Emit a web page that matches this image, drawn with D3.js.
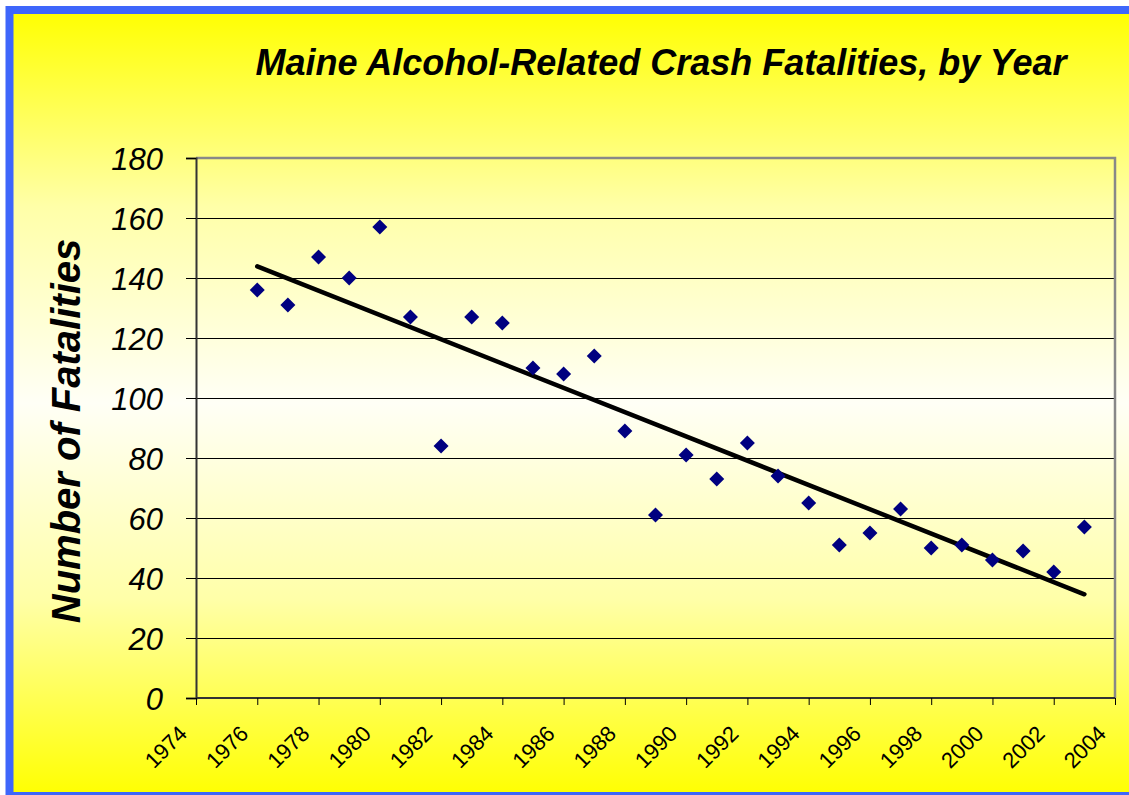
<!DOCTYPE html>
<html><head><meta charset="utf-8">
<script src="https://cdn.jsdelivr.net/npm/d3@7"></script>
<style>html,body{margin:0;padding:0;background:#fff;overflow:hidden}</style>
</head><body>
<script>
const years = [1976,1977,1978,1979,1980,1981,1982,1983,1984,1985,1986,1987,1988,1989,1990,1991,1992,1993,1994,1995,1996,1997,1998,1999,2000,2001,2002,2003];
const fatalities = [136,131,147,140,157,127,84,127,125,110,108,114,89,61,81,73,85,74,65,51,55,63,50,51,46,49,42,57];
const yTicks = [0,20,40,60,80,100,120,140,160,180];
const xTicks = [1974,1976,1978,1980,1982,1984,1986,1988,1990,1992,1994,1996,1998,2000,2002,2004];
const title = "Maine Alcohol-Related Crash Fatalities, by Year";
const yTitle = "Number of Fatalities";

(function(){
const W = 1129, H = 795;
const svg = d3.select("body").append("svg").attr("width", W).attr("height", H);
const defs = svg.append("defs");
const g = defs.append("linearGradient").attr("id","bg").attr("x1",0).attr("y1",0).attr("x2",0).attr("y2",1);
g.append("stop").attr("offset","0%").attr("stop-color","#ffff00");
g.append("stop").attr("offset","25%").attr("stop-color","#ffffa8");
g.append("stop").attr("offset","50%").attr("stop-color","#fffff6");
g.append("stop").attr("offset","75%").attr("stop-color","#ffffa8");
g.append("stop").attr("offset","100%").attr("stop-color","#ffff00");

// frame
svg.append("rect").attr("x",9.5).attr("y",10).attr("width",W+20).attr("height",786)
  .attr("fill","url(#bg)").attr("stroke","#3e66fb").attr("stroke-width",8);

const pl = 196, pt = 158, pr = 1115, pb = 698;
const x = d3.scaleLinear().domain([1974,2004]).range([pl,pr]);
const y = d3.scaleLinear().domain([0,180]).range([pb,pt]);

// gridlines
svg.append("g").selectAll("line").data(yTicks.filter(v=>v>0 && v<180)).join("line")
  .attr("x1",pl).attr("x2",pr).attr("y1",d=>y(d)).attr("y2",d=>y(d))
  .attr("stroke","#000").attr("stroke-width",1).attr("shape-rendering","crispEdges");

// plot border top/right
svg.append("path").attr("d",`M${pl},${pt}H${pr}V${pb}`)
  .attr("fill","none").attr("stroke","#888").attr("stroke-width",2.5);

// axes
const yAxis = d3.axisLeft(y).tickValues(yTicks).tickSize(10).tickPadding(23).tickFormat(d3.format("d"));
const ya = svg.append("g").attr("transform",`translate(${pl},0)`).call(yAxis);
ya.select(".domain").attr("stroke","#333").attr("stroke-width",2);
ya.selectAll(".tick line").attr("stroke","#000").attr("stroke-width",1);
ya.selectAll("text").attr("font-family","Liberation Sans, Arial, sans-serif")
  .attr("font-size",31).attr("font-style","italic").attr("fill","#000").attr("dy","0.36em");

const xAxis = d3.axisBottom(x).tickValues(xTicks).tickSize(7).tickFormat(d3.format("d"));
const xa = svg.append("g").attr("transform",`translate(0,${pb})`).call(xAxis);
xa.select(".domain").attr("stroke","#333").attr("stroke-width",2).attr("d",`M${pl},0H${pr}`);
xa.selectAll(".tick line").attr("stroke","#000").attr("stroke-width",1);
xa.selectAll("text").attr("font-family","Liberation Sans, Arial, sans-serif")
  .attr("font-size",22).attr("fill","#000")
  .attr("text-anchor","end").attr("dy",null).attr("y",0)
  .attr("transform","translate(-8,37) rotate(-45)");

// trend line (least squares)
const n = years.length;
const mx = d3.mean(years), my = d3.mean(fatalities);
let sxy=0, sxx=0;
for(let i=0;i<n;i++){ sxy += (years[i]-mx)*(fatalities[i]-my); sxx += (years[i]-mx)**2; }
const slope = sxy/sxx, icpt = my - slope*mx;
const ends = [years[0], years[n-1]];
svg.append("line")
  .attr("x1",x(ends[0])).attr("y1",y(icpt+slope*ends[0]))
  .attr("x2",x(ends[1])).attr("y2",y(icpt+slope*ends[1]))
  .attr("stroke","#000").attr("stroke-width",4.5).attr("stroke-linecap","round");

// points
const r = 7.5;
svg.append("g").selectAll("path").data(years.map((yr,i)=>[yr,fatalities[i]])).join("path")
  .attr("d",d=>{const cx=x(d[0]), cy=y(d[1]); return `M${cx},${cy-r}L${cx+r},${cy}L${cx},${cy+r}L${cx-r},${cy}Z`;})
  .attr("fill","#000080");

// titles
svg.append("text").attr("x",661).attr("y",75).attr("text-anchor","middle")
  .attr("font-family","Liberation Sans, Arial, sans-serif").attr("font-size",36)
  .attr("font-weight","bold").attr("font-style","italic").text(title);
svg.append("text").attr("transform","translate(80,431) rotate(-90)").attr("text-anchor","middle")
  .attr("font-family","Liberation Sans, Arial, sans-serif").attr("font-size",40)
  .attr("font-weight","bold").attr("font-style","italic").text(yTitle);
})();
</script>
</body></html>
